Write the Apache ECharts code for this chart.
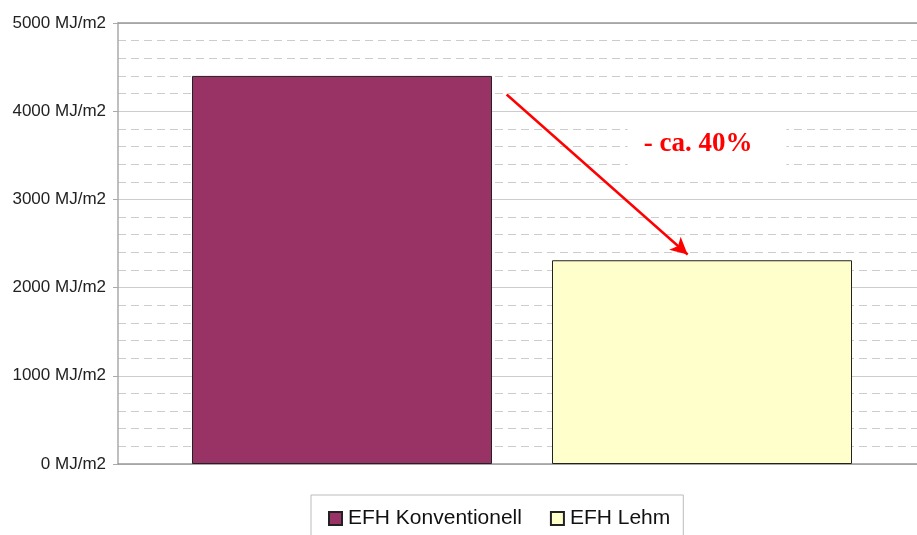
<!DOCTYPE html>
<html><head><meta charset="utf-8">
<script src="https://cdn.jsdelivr.net/npm/echarts@6/dist/echarts.min.js"></script>
<style>html,body{margin:0;padding:0;background:#fff;overflow:hidden;width:917px;height:535px}#c{width:926px;height:535px}</style>
</head><body><div id="c"></div>
<script>
const categories = ['EFH'];
const seriesNames = ['EFH Konventionell', 'EFH Lehm'];
const konventionell = [4400];
const lehm = [2310];
const yTicks = [0, 1000, 2000, 3000, 4000, 5000];
const arrowFrom = [0.481, 4190];
const arrowTo = [0.705, 2375];
const annotation = '- ca. 40%';
const annotationPos = [0.729, 3630];

const chart = echarts.init(document.getElementById('c'));
chart.setOption({
  animation: false,
  grid: { left: 118, right: 0, top: 23, bottom: 71 },
  legend: {
    data: seriesNames, top: 495, left: 311,
    itemWidth: 13, itemHeight: 13, itemGap: 28,
    borderColor: '#bbb', borderWidth: 1, padding: [13, 13, 14, 17],
    textStyle: { fontFamily: 'Liberation Sans, Arial', fontSize: 21, color: '#111', padding: [0, 0, 0, 1] },
    icon: 'rect'
  },
  xAxis: [
    { type: 'category', data: categories, axisLabel: { show: false }, axisTick: { show: false },
      axisLine: { lineStyle: { color: '#999', width: 1.5 } } },
    { type: 'value', min: 0, max: 1, position: 'top',
      axisLine: { show: true, lineStyle: { color: '#999', width: 1.5 } },
      axisTick: { show: false }, axisLabel: { show: false }, splitLine: { show: false } }
  ],
  yAxis: {
    type: 'value', min: yTicks[0], max: yTicks[yTicks.length - 1], interval: 1000,
    axisLine: { show: true, lineStyle: { color: '#aaa', width: 1.5 } },
    axisTick: { show: true, length: 5, lineStyle: { color: '#aaa' } },
    axisLabel: { formatter: v => v + ' MJ/m2', fontFamily: 'Liberation Sans, Arial', fontSize: 17, color: '#222', margin: 12 },
    splitLine: { lineStyle: { color: '#ccc', width: 1 } },
    minorTick: { show: false, splitNumber: 5 },
    minorSplitLine: { show: true, lineStyle: { color: '#ccc', type: [8, 5], width: 1 } }
  },
  series: [
    { name: seriesNames[0], type: 'bar', data: konventionell, barWidth: 300, barGap: '20%',
      itemStyle: { color: '#993366', borderColor: '#222', borderWidth: 1 } },
    { name: seriesNames[1], type: 'bar', data: lehm, barWidth: 300,
      itemStyle: { color: '#FFFFCC', borderColor: '#222', borderWidth: 1 } },
    { type: 'line', xAxisIndex: 1, data: [], silent: true,
      markLine: {
        silent: true, symbol: ['none', 'arrow'], symbolSize: [13, 17],
        lineStyle: { color: '#ff0000', width: 2.5, type: 'solid' },
        label: { show: false },
        data: [[{ coord: arrowFrom }, { coord: arrowTo }]]
      },
      markPoint: {
        silent: true, symbol: 'rect', symbolSize: 1, itemStyle: { color: 'rgba(0,0,0,0)' },
        label: { show: true, formatter: annotation, color: '#ff0000', fontFamily: 'Liberation Serif, Times New Roman',
          fontWeight: 'bold', fontSize: 27, backgroundColor: '#fff', padding: [15, 34, 15, 16] },
        data: [{ coord: annotationPos }]
      }
    }
  ]
});
</script></body></html>
